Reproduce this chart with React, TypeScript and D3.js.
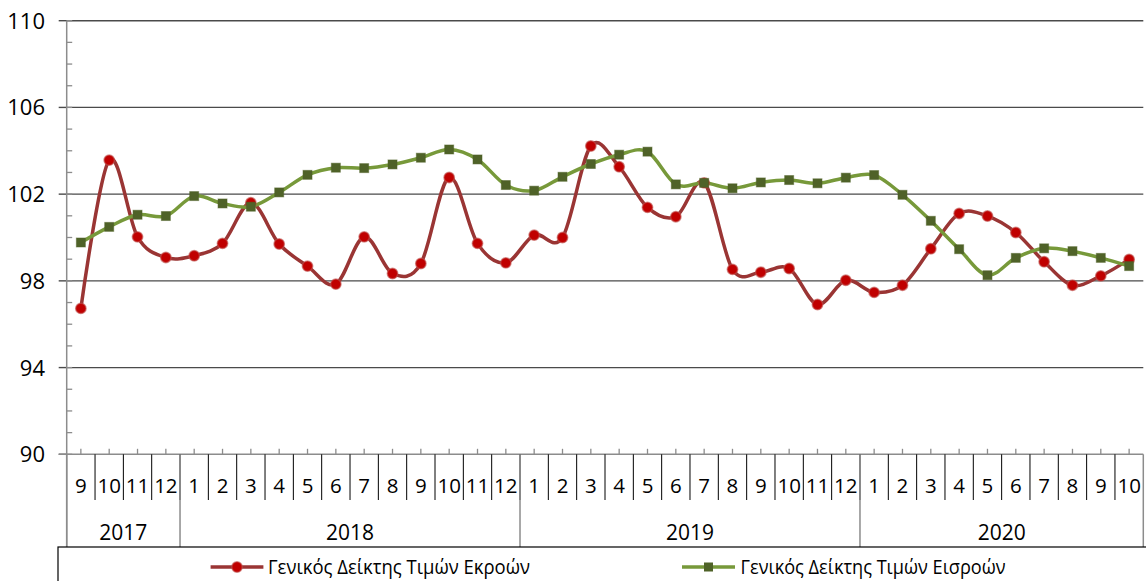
import React from "react";
import * as d3 from "d3";

const months = [
  "9", "10", "11", "12",
  "1", "2", "3", "4", "5", "6", "7", "8", "9", "10", "11", "12",
  "1", "2", "3", "4", "5", "6", "7", "8", "9", "10", "11", "12",
  "1", "2", "3", "4", "5", "6", "7", "8", "9", "10",
];
const yearLabels = ["2017", "2018", "2019", "2020"];
const yearCounts = [4, 12, 12, 10];

const outputIndex = [
  96.73, 103.57, 100.03, 99.08, 99.16, 99.73, 101.6, 99.7, 98.68, 97.85,
  100.03, 98.34, 98.8, 102.77, 99.73, 98.83, 100.11, 100.0, 104.22, 103.26,
  101.39, 100.96, 102.52, 98.53, 98.4, 98.57, 96.91, 98.03, 97.47, 97.8,
  99.48, 101.11, 100.99, 100.23, 98.88, 97.8, 98.23, 98.99,
];
const inputIndex = [
  99.77, 100.49, 101.05, 100.99, 101.91, 101.57, 101.42, 102.08, 102.89, 103.22,
  103.2, 103.37, 103.68, 104.06, 103.6, 102.42, 102.16, 102.8, 103.39, 103.82,
  103.96, 102.45, 102.52, 102.27, 102.54, 102.65, 102.5, 102.76, 102.88, 101.97,
  100.77, 99.46, 98.26, 99.06, 99.5, 99.37, 99.06, 98.68,
];
const yMajorTicks = [90, 94, 98, 102, 106, 110];
const seriesNames = ["Γενικός Δείκτης Τιμών Εκροών", "Γενικός Δείκτης Τιμών Εισροών"];

const W = 1146;
const H = 581;
const FONT = "'Open Sans', 'Noto Sans', sans-serif";

export default function App() {
  const left = 66.7;
  const right = 1143.3;
  const top = 20.7;
  const bottom = 454.3;
  const monthRowBottom = 500;
  const yearRowBottom = 547;

  const idx = months.map((_, i) => i);
  const x = d3.scaleBand<number>().domain(idx).range([left, right]).padding(0);
  const cx = (i: number) => (x(i) as number) + x.bandwidth() / 2;
  const y = d3.scaleLinear().domain([90, 110]).range([bottom, top]);
  const minorTicks = d3.range(90, 111, 1);

  const line = d3
    .line<number>()
    .x((_, i) => cx(i))
    .y((d) => y(d))
    .curve(d3.curveCatmullRom.alpha(0));

  const redLine = "#9A3534";
  const redMarker = "#C00000";
  const greenLine = "#77993A";
  const greenMarker = "#4F6228";
  const gridColor = "#4a4a4a";
  const axisColor = "#8c8c8c";

  const yearStarts: number[] = [];
  let acc = 0;
  yearCounts.forEach((c) => {
    yearStarts.push(acc);
    acc += c;
  });

  return (
    <svg
      width={W}
      height={H}
      style={{ position: "absolute", left: 0, top: 0, background: "#fff" }}
      fontFamily={FONT}
    >
      <rect x={0} y={0} width={W} height={H} fill="#fff" />
      {yMajorTicks.filter((t) => t > 90).map((t) => (
        <line key={"g" + t} x1={left} x2={right} y1={y(t)} y2={y(t)} stroke={gridColor} strokeWidth={1.4} />
      ))}
      {minorTicks.map((t) => (
        <line key={"m" + t} x1={left} x2={left + 5.5} y1={y(t)} y2={y(t)} stroke={axisColor} strokeWidth={1.3} />
      ))}
      {yMajorTicks.map((t) => (
        <g key={"t" + t}>
          <line x1={left - 8} x2={left} y1={y(t)} y2={y(t)} stroke={gridColor} strokeWidth={1.4} />
          <text x={45} y={y(t)} dy="0.36em" textAnchor="end" fontSize={22} fill="#000">
            {t}
          </text>
        </g>
      ))}
      <line x1={left} x2={left} y1={top} y2={yearRowBottom} stroke={axisColor} strokeWidth={1.5} />
      <line x1={left - 8} x2={right} y1={bottom} y2={bottom} stroke={axisColor} strokeWidth={1.5} />
      {idx.map((i) => (
        <line key={"xt" + i} x1={cx(i)} x2={cx(i)} y1={bottom - 5.5} y2={bottom} stroke={axisColor} strokeWidth={1.3} />
      ))}
      {idx.slice(1).map((i) => (
        <line key={"ms" + i} x1={x(i) as number} x2={x(i) as number} y1={bottom} y2={monthRowBottom} stroke="#000" strokeWidth={1} />
      ))}
      {[...yearStarts, months.length].map((s, k) => {
        const xx = s === months.length ? right : (x(s) as number);
        return <line key={"ys" + k} x1={xx} x2={xx} y1={bottom} y2={yearRowBottom} stroke={axisColor} strokeWidth={1.5} />;
      })}
      {months.map((m, i) => (
        <text key={"ml" + i} x={cx(i)} y={485.5} dy="0.36em" textAnchor="middle" fontSize={20.5} fill="#000">
          {m}
        </text>
      ))}
      {yearLabels.map((yl, k) => {
        const x0 = x(yearStarts[k]) as number;
        const x1 = x0 + yearCounts[k] * x.bandwidth();
        return (
          <text key={"yl" + k} x={(x0 + x1) / 2} y={532} dy="0.36em" textAnchor="middle" fontSize={21} fill="#000">
            {yl}
          </text>
        );
      })}
      <path d={line(outputIndex) || ""} fill="none" stroke={redLine} strokeWidth={3.5} strokeLinejoin="round" />
      <path d={line(inputIndex) || ""} fill="none" stroke={greenLine} strokeWidth={3.5} strokeLinejoin="round" />
      {outputIndex.map((v, i) => (
        <circle key={"rc" + i} cx={cx(i)} cy={y(v)} r={5.2} fill={redMarker} stroke="rgba(192,80,77,0.6)" strokeWidth={1.5} />
      ))}
      {inputIndex.map((v, i) => (
        <rect key={"gs" + i} x={cx(i) - 4.5} y={y(v) - 4.5} width={9} height={9} fill={greenMarker} stroke="rgba(79,98,40,0.5)" strokeWidth={1} />
      ))}
      <rect x={58} y={yearRowBottom} width={1100} height={60} fill="none" stroke="#000" strokeWidth={1.2} />
      <line x1={210.6} x2={263.4} y1={567} y2={567} stroke={redLine} strokeWidth={3.5} />
      <circle cx={237} cy={567} r={5.2} fill={redMarker} stroke="rgba(192,80,77,0.6)" strokeWidth={1.5} />
      <text x={268} y={567} dy="0.36em" fontSize={20} fill="#000" textLength={262} lengthAdjust="spacingAndGlyphs">
        {seriesNames[0]}
      </text>
      <line x1={682} x2={735} y1={567} y2={567} stroke={greenLine} strokeWidth={3.5} />
      <rect x={708.5 - 4.5} y={567 - 4.5} width={9} height={9} fill={greenMarker} />
      <text x={740.6} y={567} dy="0.36em" fontSize={20} fill="#000" textLength={265} lengthAdjust="spacingAndGlyphs">
        {seriesNames[1]}
      </text>
    </svg>
  );
}
